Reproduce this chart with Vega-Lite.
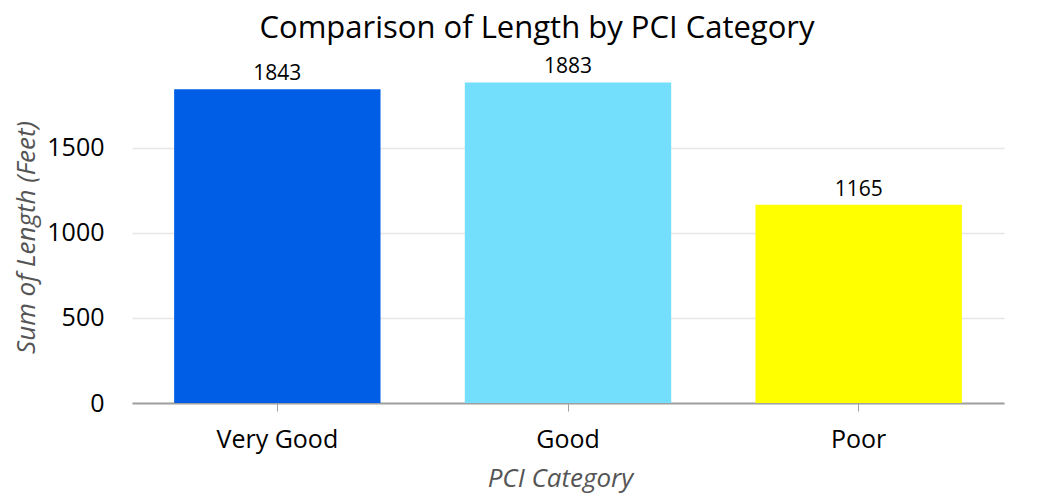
{
  "$schema": "https://vega.github.io/schema/vega-lite/v6.json",
  "width": 872,
  "height": 332,
  "autosize": "none",
  "padding": {"left": 132, "top": 71, "right": 53, "bottom": 94},
  "background": "white",
  "title": {
    "text": "Comparison of Length by PCI Category",
    "font": "Open Sans",
    "fontSize": 31,
    "fontWeight": "normal",
    "color": "#000000",
    "anchor": "middle",
    "frame": "group",
    "dx": -31,
    "offset": 11
  },
  "data": {
    "values": [
      {"category": "Very Good", "length": 1843},
      {"category": "Good", "length": 1883},
      {"category": "Poor", "length": 1165}
    ]
  },
  "encoding": {
    "x": {
      "field": "category",
      "type": "nominal",
      "sort": ["Very Good", "Good", "Poor"],
      "scale": {"paddingInner": 0.29, "paddingOuter": 0.145},
      "axis": {
        "title": "PCI Category",
        "titleFont": "Open Sans",
        "titleFontSize": 26,
        "titleFontStyle": "italic",
        "titleFontWeight": "normal",
        "titleColor": "#555555",
        "titlePadding": 13,
        "titleX": 428,
        "labelFont": "Open Sans",
        "labelFontSize": 25,
        "labelColor": "#000000",
        "labelAngle": 0,
        "labelPadding": 16,
        "domainColor": "#a0a0a0",
        "domainWidth": 2,
        "tickColor": "#a0a0a0",
        "tickSize": 8,
        "tickWidth": 1
      }
    },
    "y": {
      "field": "length",
      "type": "quantitative",
      "scale": {"domain": [0, 1950], "nice": false},
      "axis": {
        "title": "Sum of Length (Feet)",
        "titleFont": "Open Sans",
        "titleFontSize": 26,
        "titleFontStyle": "italic",
        "titleFontWeight": "normal",
        "titleColor": "#555555",
        "titlePadding": 7,
        "labelFont": "Open Sans",
        "labelFontSize": 25,
        "labelColor": "#000000",
        "labelPadding": 28,
        "format": "d",
        "values": [0, 500, 1000, 1500],
        "domain": false,
        "ticks": false,
        "grid": true,
        "gridColor": "#e6e6e6",
        "gridWidth": 1.5
      }
    }
  },
  "layer": [
    {
      "mark": {"type": "bar"},
      "encoding": {
        "color": {
          "field": "category",
          "type": "nominal",
          "scale": {"domain": ["Very Good", "Good", "Poor"], "range": ["#005EE6", "#74DFFC", "#FFFF00"]},
          "legend": null
        }
      }
    },
    {
      "mark": {"type": "text", "baseline": "alphabetic", "dy": -9, "font": "Open Sans", "fontSize": 21, "color": "#000000"},
      "encoding": {
        "text": {"field": "length", "type": "quantitative", "format": "d"}
      }
    }
  ],
  "config": {"view": {"stroke": null}}
}
